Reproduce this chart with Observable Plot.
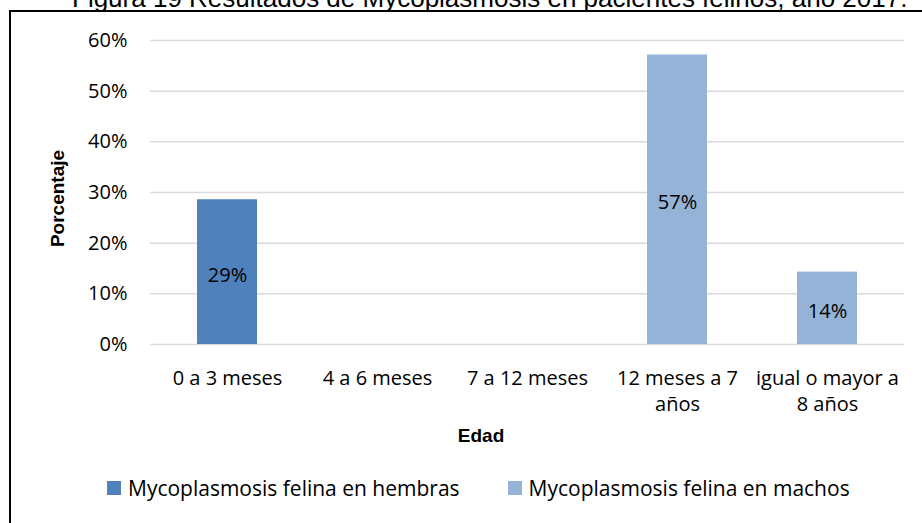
<!DOCTYPE html>
<html>
<head>
<meta charset="utf-8">
<script src="https://cdn.jsdelivr.net/npm/d3@7"></script>
<script src="https://cdn.jsdelivr.net/npm/@observablehq/plot@0.6"></script>
<style>
  html, body { margin: 0; padding: 0; background: #fff; overflow: hidden; width: 922px; height: 523px; }
  #wrap { position: relative; width: 922px; height: 523px; overflow: hidden; }
  #title { position: absolute; left: 72px; top: -14px; font-family: "Liberation Sans", Arial, sans-serif; font-size: 26px; line-height: 25px; white-space: nowrap; color: #000; }
  #frame { position: absolute; left: 9px; top: 10px; width: 2000px; height: 2000px; border: 2px solid #000; box-sizing: border-box; }
  #chart { position: absolute; left: 0; top: 0; }
  #legend { position: absolute; left: 107px; top: 474px; display: flex; align-items: center; font-family: "Open Sans", sans-serif; font-size: 21px; color: #000; white-space: nowrap; }
  .item { display: flex; align-items: center; margin-right: 48px; }
  .sw { width: 14px; height: 14px; margin-right: 7px; }
</style>
</head>
<body>
<div id="wrap">
  <div id="frame"></div>
  <div id="title"></div>
  <div id="chart"></div>
  <div id="legend"></div>
</div>
<script>
const titleText = "Figura 19 Resultados de Mycoplasmosis en pacientes felinos, año 2017.";
const categories = ["0 a 3 meses", "4 a 6 meses", "7 a 12 meses", "12 meses a 7 años", "igual o mayor a 8 años"];
const tickLabels = ["0 a 3 meses", "4 a 6 meses", "7 a 12 meses", "12 meses a 7\naños", "igual o mayor a\n8 años"];
const seriesNames = ["Mycoplasmosis felina en hembras", "Mycoplasmosis felina en machos"];
const seriesColors = ["#4f81bd", "#95b3d7"];
const hembras = [0.2857, 0, 0, 0, 0];
const machos = [0, 0, 0, 0.5714, 0.1429];
const yTicks = [0, 0.1, 0.2, 0.3, 0.4, 0.5, 0.6];
const yLabel = "Porcentaje";
const xLabel = "Edad";

document.getElementById("title").textContent = titleText;

const rows = categories.flatMap((c, i) => [
  {cat: c, serie: seriesNames[0], v: hembras[i]},
  {cat: c, serie: seriesNames[1], v: machos[i]}
]).filter(d => d.v > 0);

const pct = d3.format(".0%");
const labelOf = new Map(categories.map((c, i) => [c, tickLabels[i]]));

const chart = Plot.plot({
  width: 922,
  height: 470,
  marginTop: 40,
  marginBottom: 126,
  marginLeft: 150,
  marginRight: 18,
  style: { fontFamily: "'Open Sans', sans-serif", fontSize: "20px", color: "#000", background: "transparent", overflow: "visible" },
  x: { domain: categories, paddingInner: 0.6, paddingOuter: 0.3 },
  y: { domain: [0, 0.6] },
  color: { domain: seriesNames, range: seriesColors },
  marks: [
    Plot.ruleY(yTicks, { stroke: "#d9d9d9", strokeWidth: 1.5 }),
    Plot.axisY({ ticks: yTicks, tickFormat: pct, tickSize: 0, tickPadding: 23, label: null, fill: "#000" }),
    Plot.axisX({ tickSize: 0, tickPadding: 22, tickFormat: d => labelOf.get(d), lineHeight: 1.3, label: null, fill: "#000" }),
    Plot.barY(rows, { x: "cat", y: "v", fill: "serie" }),
    Plot.text(rows, { x: "cat", y: d => d.v / 2, text: d => pct(d.v), dy: 3, fill: "#000" }),
    Plot.text([yLabel], { frameAnchor: "left", textAnchor: "middle", dx: -93, dy: 6, rotate: -90, fontFamily: "'Liberation Sans', Arial, sans-serif", fontWeight: "bold", fontSize: 19, fill: "#000" }),
    Plot.text([xLabel], { frameAnchor: "bottom", dx: -46.5, dy: 97, fontFamily: "'Liberation Sans', Arial, sans-serif", fontWeight: "bold", fontSize: 19, fill: "#000" })
  ]
});
document.getElementById("chart").appendChild(chart);

const legend = document.getElementById("legend");
seriesNames.forEach((name, i) => {
  const item = document.createElement("div");
  item.className = "item";
  const sw = document.createElement("div");
  sw.className = "sw";
  sw.style.background = seriesColors[i];
  const t = document.createElement("span");
  t.textContent = name;
  item.appendChild(sw);
  item.appendChild(t);
  legend.appendChild(item);
});
</script>
</body>
</html>
